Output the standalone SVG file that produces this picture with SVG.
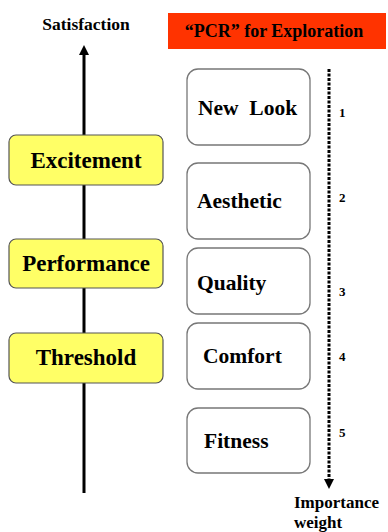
<svg xmlns="http://www.w3.org/2000/svg" width="388" height="532" viewBox="0 0 388 532">
<style>
text{font-weight:bold;fill:#000;white-space:pre}
.lvl{fill:#ffff66;stroke:#555;stroke-width:1.2}
.attr{fill:#fff;stroke:#777;stroke-width:1.3}
.big{font-size:23px}
.mid{font-size:21.5px}
.num{font-size:13px}
</style>
<defs>
<marker id="ah" viewBox="0 0 10 10" refX="5" refY="5" markerWidth="10" markerHeight="10" markerUnits="userSpaceOnUse" orient="auto">
<path d="M0,0 L10,5 L0,10 z" fill="#000"/>
</marker>
</defs>
<g id="connectors">
<line x1="84" y1="493" x2="84" y2="50" stroke="#000" stroke-width="3" marker-end="url(#ah)"/>
<line x1="329" y1="69" x2="329" y2="484" stroke="#000" stroke-width="3" stroke-dasharray="3 1.5" marker-end="url(#ah)"/>
</g>
<g font-family="Liberation Serif, DejaVu Serif, serif">
<g id="satisfaction"><text x="86" y="30" font-size="17.5" text-anchor="middle">Satisfaction</text></g>
<g id="title">
<rect x="168" y="13" width="218" height="36" fill="#ff3300"/>
<text x="274" y="37" font-size="18" text-anchor="middle">“PCR” for Exploration</text>
</g>
<g id="excitement"><rect class="lvl" x="9" y="135" width="154" height="50" rx="7"/><text class="big" x="86" y="168" text-anchor="middle">Excitement</text></g>
<g id="performance"><rect class="lvl" x="9" y="239" width="154" height="49" rx="7"/><text class="big" x="86" y="271" text-anchor="middle">Performance</text></g>
<g id="threshold"><rect class="lvl" x="9" y="333" width="154" height="50" rx="7"/><text class="big" x="86" y="365" text-anchor="middle">Threshold</text></g>
<g id="newlook"><rect class="attr" x="187" y="69" width="123" height="76" rx="11"/><text class="mid" x="198" y="115">New  Look</text></g>
<g id="aesthetic"><rect class="attr" x="187" y="163" width="123" height="76" rx="11"/><text class="mid" x="197" y="208">Aesthetic</text></g>
<g id="quality"><rect class="attr" x="187" y="248" width="123" height="66" rx="11"/><text class="mid" x="197" y="290">Quality</text></g>
<g id="comfort"><rect class="attr" x="187" y="323" width="123" height="66" rx="11"/><text class="mid" x="203" y="363">Comfort</text></g>
<g id="fitness"><rect class="attr" x="187" y="408" width="123" height="65" rx="11"/><text class="mid" x="204" y="448">Fitness</text></g>
<g id="numbers">
<text class="num" x="339" y="117">1</text>
<text class="num" x="339" y="202">2</text>
<text class="num" x="339" y="296">3</text>
<text class="num" x="339" y="361">4</text>
<text class="num" x="339" y="437">5</text>
</g>
<g id="importance">
<text x="294" y="508" font-size="17">Importance</text>
<text x="294" y="528" font-size="17">weight</text>
</g>
</g>
</svg>
